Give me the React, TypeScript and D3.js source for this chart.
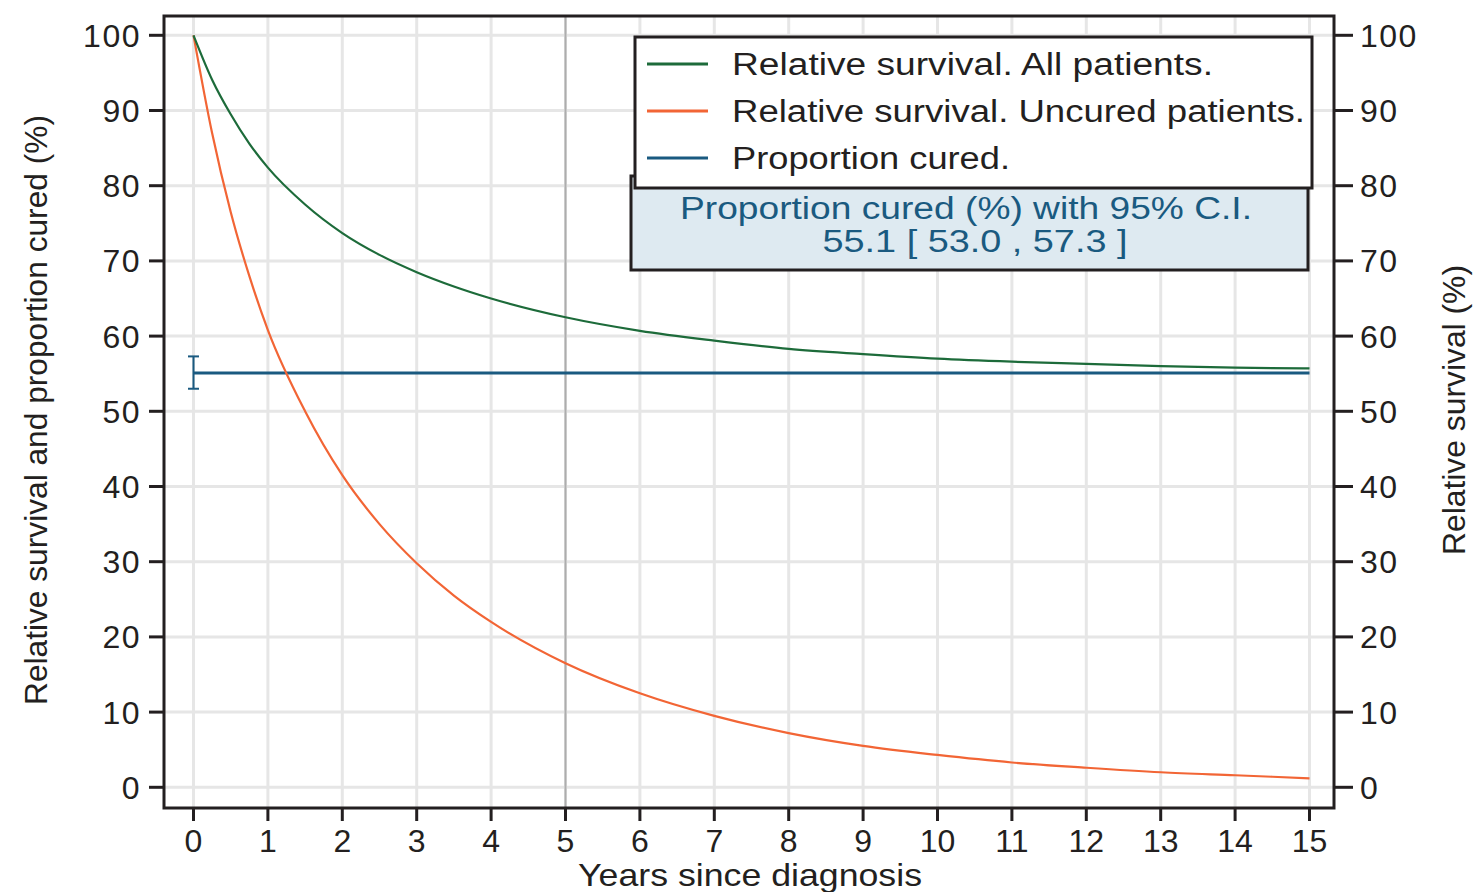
import React, { useEffect } from "react";
import * as d3 from "d3";

const years = [0, 0.25, 0.5, 0.75, 1, 1.5, 2, 2.5, 3, 3.5, 4, 5, 6, 7, 8, 9, 10, 11, 12, 13, 14, 15];
const allPatients = [100, 94.1, 89.5, 85.6, 82.4, 77.5, 73.7, 70.8, 68.5, 66.6, 65.0, 62.5, 60.7, 59.4, 58.3, 57.6, 57.0, 56.6, 56.3, 56.0, 55.8, 55.7];
const uncured = [100, 87, 76.5, 68, 60.8, 50, 41.5, 35, 29.8, 25.5, 22, 16.5, 12.5, 9.5, 7.2, 5.5, 4.3, 3.3, 2.6, 2.0, 1.6, 1.2];
const cureProportion = 55.1;
const cureLow = 53.0;
const cureHigh = 57.3;
const xTicks = d3.range(0, 16);
const yTicks = d3.range(0, 101, 10);
const legendLabels = [
  "Relative survival. All patients.",
  "Relative survival. Uncured patients.",
  "Proportion cured.",
];
const infoLines = ["Proportion cured (%) with 95% C.I.", "55.1 [ 53.0 , 57.3 ]"];

const GREEN = "#1d6b3a";
const ORANGE = "#f26535";
const BLUE = "#1a5a80";
const INK = "#231f20";
const FONT = "'Liberation Sans', Arial, sans-serif";

export default function App() {
  useEffect(() => {
    document.body.style.margin = "0";
  }, []);

  const W = 1474;
  const H = 892;
  const frame = { left: 164, top: 16, right: 1334, bottom: 808 };
  const x = d3.scaleLinear().domain([0, 15]).range([193.5, 1309.5]);
  const y = d3.scaleLinear().domain([0, 100]).range([787.3, 35.3]);

  const line = d3
    .line<number>()
    .x((_, i) => x(years[i]))
    .curve(d3.curveMonotoneX);
  const greenPath = line.y((d) => y(d))(allPatients) || "";
  const orangePath = line.y((d) => y(d))(uncured) || "";

  const legendWidths = [481, 573, 278];
  const legendBaselines = [75, 122, 169];
  const legendRowY = [64, 111, 158];
  const tickFont = 32;

  return (
    <svg width={W} height={H} style={{ display: "block", background: "#fff" }} fontFamily={FONT}>
      {/* grid */}
      {xTicks.map((t) => (
        <line key={"gx" + t} x1={x(t)} x2={x(t)} y1={frame.top} y2={frame.bottom} stroke="#e6e6e6" strokeWidth={3} />
      ))}
      {yTicks.map((t) => (
        <line key={"gy" + t} x1={frame.left} x2={frame.right} y1={y(t)} y2={y(t)} stroke="#e6e6e6" strokeWidth={3} />
      ))}
      {/* reference line at 5 years */}
      <line x1={x(5)} x2={x(5)} y1={frame.top} y2={frame.bottom} stroke="#adadad" strokeWidth={2} />

      {/* cure proportion */}
      <line x1={x(0)} x2={x(15)} y1={y(cureProportion)} y2={y(cureProportion)} stroke={BLUE} strokeWidth={3} />
      <line x1={x(0)} x2={x(0)} y1={y(cureLow)} y2={y(cureHigh)} stroke={BLUE} strokeWidth={2} />
      <line x1={x(0) - 5.5} x2={x(0) + 5.5} y1={y(cureLow)} y2={y(cureLow)} stroke={BLUE} strokeWidth={2} />
      <line x1={x(0) - 5.5} x2={x(0) + 5.5} y1={y(cureHigh)} y2={y(cureHigh)} stroke={BLUE} strokeWidth={2} />

      {/* curves */}
      <path d={orangePath} fill="none" stroke={ORANGE} strokeWidth={2.2} />
      <path d={greenPath} fill="none" stroke={GREEN} strokeWidth={2.2} />

      {/* frame */}
      <rect
        x={frame.left}
        y={frame.top}
        width={frame.right - frame.left}
        height={frame.bottom - frame.top}
        fill="none"
        stroke={INK}
        strokeWidth={3}
      />

      {/* left axis */}
      {yTicks.map((t) => (
        <g key={"ly" + t}>
          <line x1={149} x2={frame.left} y1={y(t)} y2={y(t)} stroke={INK} strokeWidth={3} />
          <text x={141} y={y(t) + 11.5} textAnchor="end" fontSize={tickFont} letterSpacing={1.5} fill={INK}>
            {t}
          </text>
        </g>
      ))}
      {/* right axis */}
      {yTicks.map((t) => (
        <g key={"ry" + t}>
          <line x1={frame.right} x2={1353} y1={y(t)} y2={y(t)} stroke={INK} strokeWidth={3} />
          <text x={1360} y={y(t) + 11.5} textAnchor="start" fontSize={tickFont} letterSpacing={1.5} fill={INK}>
            {t}
          </text>
        </g>
      ))}
      {/* bottom axis */}
      {xTicks.map((t) => (
        <g key={"bx" + t}>
          <line x1={x(t)} x2={x(t)} y1={frame.bottom} y2={821} stroke={INK} strokeWidth={3} />
          <text x={x(t)} y={852} textAnchor="middle" fontSize={tickFont} fill={INK}>
            {t}
          </text>
        </g>
      ))}

      {/* axis titles */}
      <text x={750} y={886} textAnchor="middle" fontSize={32} fill={INK} textLength={344} lengthAdjust="spacingAndGlyphs">
        Years since diagnosis
      </text>
      <text
        transform="translate(47,410) rotate(-90)"
        textAnchor="middle"
        fontSize={31}
        fill={INK}
        textLength={590}
        lengthAdjust="spacingAndGlyphs"
      >
        Relative survival and proportion cured (%)
      </text>
      <text
        transform="translate(1465,410) rotate(-90)"
        textAnchor="middle"
        fontSize={31}
        fill={INK}
        textLength={290}
        lengthAdjust="spacingAndGlyphs"
      >
        Relative survival (%)
      </text>

      {/* info box */}
      <rect x={631} y={176} width={677} height={94} fill="#deeaf1" stroke={INK} strokeWidth={3} />
      <text x={966} y={219} textAnchor="middle" fontSize={31} fill={BLUE} textLength={572} lengthAdjust="spacingAndGlyphs">
        {infoLines[0]}
      </text>
      <text x={975} y={252} textAnchor="middle" fontSize={31} fill={BLUE} textLength={305} lengthAdjust="spacingAndGlyphs">
        {infoLines[1]}
      </text>

      {/* legend */}
      <rect x={635} y={37} width={677} height={151} fill="#fff" stroke={INK} strokeWidth={3} />
      {legendLabels.map((lab, i) => (
        <g key={lab}>
          <line
            x1={647}
            x2={708}
            y1={legendRowY[i]}
            y2={legendRowY[i]}
            stroke={[GREEN, ORANGE, BLUE][i]}
            strokeWidth={3}
          />
          <text
            x={732}
            y={legendBaselines[i]}
            fontSize={31}
            fill={INK}
            textLength={legendWidths[i]}
            lengthAdjust="spacingAndGlyphs"
          >
            {lab}
          </text>
        </g>
      ))}
    </svg>
  );
}
